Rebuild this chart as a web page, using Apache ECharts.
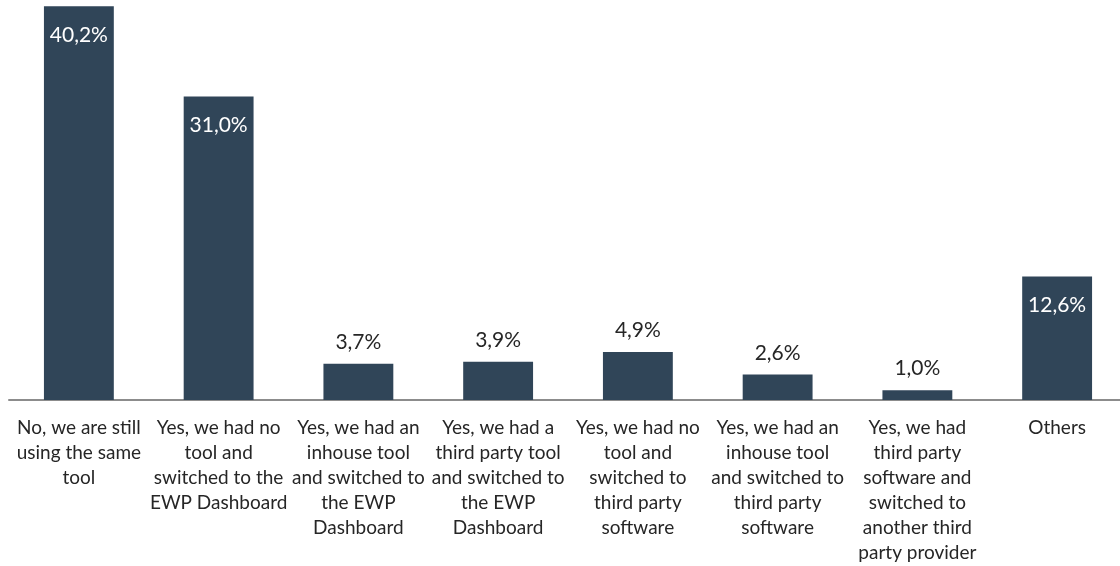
<!DOCTYPE html>
<html>
<head>
<meta charset="utf-8">
<script src="https://cdn.jsdelivr.net/npm/echarts@6/dist/echarts.min.js"></script>
<style>
  html, body { margin: 0; padding: 0; background: #ffffff; }
  #chart { width: 1120px; height: 566px; }
</style>
</head>
<body>
<div id="chart"></div>
<script>
// Survey answers (category labels, wrapped as they appear under the axis)
const categories = [
  'No, we are still\nusing the same\ntool',
  'Yes, we had no\ntool and\nswitched to the\nEWP Dashboard',
  'Yes, we had an\ninhouse tool\nand switched to\nthe EWP\nDashboard',
  'Yes, we had a\nthird party tool\nand switched to\nthe EWP\nDashboard',
  'Yes, we had no\ntool and\nswitched to\nthird party\nsoftware',
  'Yes, we had an\ninhouse tool\nand switched to\nthird party\nsoftware',
  'Yes, we had\nthird party\nsoftware and\nswitched to\nanother third\nparty provider',
  'Others'
];

// Share of respondents, in percent
const shares = [40.2, 31.0, 3.7, 3.9, 4.9, 2.6, 1.0, 12.6];

const BAR = '#304558';
const FONT = 'Lato';
const fmt = v => v.toFixed(1).replace('.', ',') + '%';

// Tall bars carry their value inside the top in white, short bars above in dark text
const seriesData = shares.map(v => {
  const inside = v > 10;
  return {
    value: v,
    label: inside
      ? { position: 'insideTop', distance: 18, color: '#ffffff' }
      : { position: 'top', distance: 11, color: '#262626' }
  };
});

const chart = echarts.init(document.getElementById('chart'), null, { renderer: 'canvas' });
chart.setOption({
  animation: false,
  grid: { left: 9, top: 0, width: 1118, height: 400, containLabel: false, outerBoundsMode: 'none' },
  xAxis: {
    type: 'category',
    data: categories,
    axisLine: { lineStyle: { color: '#8c8c8c', width: 2 } },
    axisTick: { show: false },
    axisLabel: {
      interval: 0,
      margin: 15,
      color: '#262626',
      fontFamily: FONT,
      fontSize: 19,
      lineHeight: 25
    }
  },
  yAxis: {
    type: 'value',
    min: 0,
    max: 40.85,
    show: false,
    splitLine: { show: false }
  },
  series: [{
    type: 'bar',
    data: seriesData,
    barWidth: '50%',
    itemStyle: { color: BAR },
    label: {
      show: true,
      fontFamily: FONT,
      fontSize: 21,
      formatter: p => fmt(p.value)
    }
  }]
});
</script>
</body>
</html>
